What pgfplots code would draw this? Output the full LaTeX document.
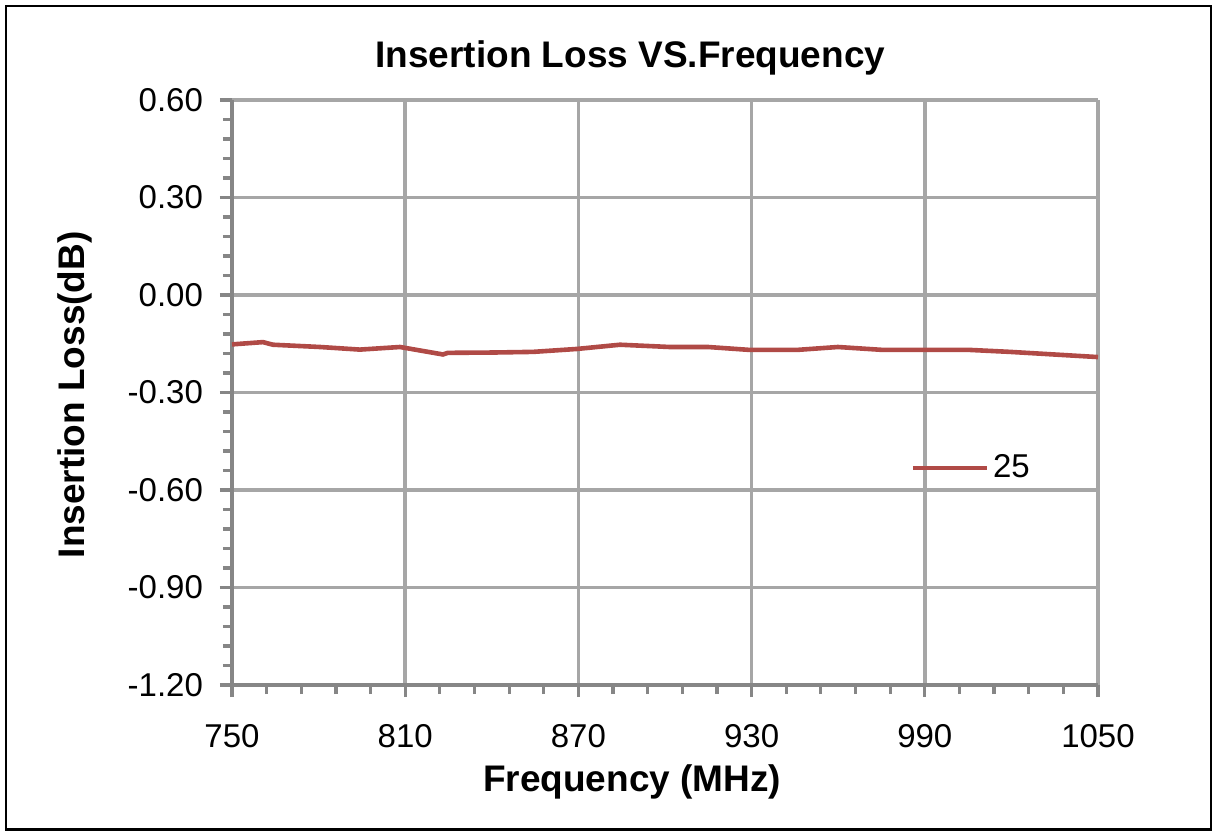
\documentclass[border=0pt]{standalone}
\usepackage{pgfplots}
\pgfplotsset{compat=1.18}
\usepackage{fontspec}
\setmainfont{Liberation Sans}

\definecolor{axgray}{RGB}{134,134,134}
\definecolor{gridgray}{RGB}{166,166,166}
\definecolor{linered}{RGB}{176,74,70}

\begin{document}
\begin{tikzpicture}
% picture frame, 1px = 0.5pt
\path[use as bounding box] (-116pt,-73pt) rectangle (491.5pt,342.5pt);
\draw[black, line width=1.1pt] (-113pt,-72.25pt) rectangle (489.5pt,339.5pt);
\begin{axis}[
    at={(0pt,0pt)}, anchor=south west,
    scale only axis,
    width=433pt, height=292.5pt,
    xmin=750, xmax=1050,
    ymin=-1.2, ymax=0.6,
    xtick={750,810,...,1050},
    ytick={-1.2,-0.9,...,0.61},
    minor x tick num=4,
    minor y tick num=4,
    tick align=outside,
    major tick length=6pt,
    minor tick length=4.5pt,
    every tick/.style={axgray, line width=1.6pt},
    axis line style={axgray, line width=1.8pt},
    axis x line*=bottom,
    axis y line*=left,
    grid=major,
    major grid style={gridgray, line width=1.7pt},
    tick label style={font=\fontsize{16.5}{16.5}\selectfont},
    /pgf/number format/assume math mode=true,
    yticklabel style={/pgf/number format/fixed, /pgf/number format/fixed zerofill, /pgf/number format/precision=2, xshift=-5pt},
    xticklabel style={/pgf/number format/set thousands separator={}, yshift=-10pt},
    title={\bfseries Insertion Loss VS.Frequency},
    title style={at={(rel axis cs:0.46,1.077)}, anchor=center, yshift=-7.5pt, font=\fontsize{18.5}{18.5}\selectfont},
    xlabel={\bfseries Frequency (MHz)},
    xlabel style={at={(rel axis cs:0.462,-0.165)}, anchor=center, font=\fontsize{18.5}{18.5}\selectfont},
    ylabel={\bfseries Insertion Loss(dB)},
    ylabel style={at={(rel axis cs:-0.181,0.496)}, anchor=center, font=\fontsize{18.5}{18.5}\selectfont},
    legend style={at={(rel axis cs:0.783,0.371)}, anchor=west, draw=none, fill=none,
        font=\fontsize{16.5}{16.5}\selectfont, inner sep=0pt},
    legend cell align=left,
    legend image code/.code={\draw[#1] (0pt,0pt) -- (37pt,0pt);},
    clip=false,
]
\addplot[linered, line width=2.3pt] coordinates {
    (750,-0.152) (760.7,-0.145) (764.2,-0.153) (780.5,-0.160) (794.3,-0.168)
    (808.2,-0.160) (823.1,-0.183) (824.8,-0.178) (840.4,-0.177) (854.3,-0.175)
    (869.5,-0.166) (884.4,-0.153) (901.7,-0.160) (914.9,-0.160) (929.4,-0.169)
    (945.7,-0.169) (959.9,-0.160) (975.5,-0.169) (1005.6,-0.169) (1019.5,-0.175)
    (1050,-0.191)
};
\addlegendentry{25}
\end{axis}
\end{tikzpicture}
\end{document}
